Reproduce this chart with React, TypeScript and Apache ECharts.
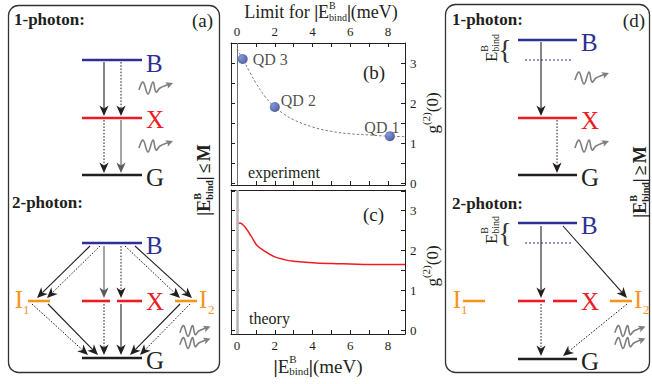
import React, { useEffect, useRef } from 'react';
import * as echarts from 'echarts';

const FONT = "'Liberation Serif', 'Times New Roman', serif";
const BLUE = '#2e3192';
const RED = '#ed1c24';
const ORANGE = '#f7941d';
const INK = '#231f20';
const GREY = '#7f7f7f';

// ---- data ----
const topTickLabels = [0, 2, 4, 6, 8];
const bottomTickLabels = [0, 2, 4, 6, 8];
const xTickValues = [0, 1, 2, 3, 4, 5, 6, 7, 8];
const yTickLabels = [0, 1, 2, 3];
const yTickValues = [0, 0.5, 1, 1.5, 2, 2.5, 3, 3.5];

const qdNames = ['QD 3', 'QD 2', 'QD 1'];
const qdX = [0.3, 2.0, 8.1];
const qdY = [3.1, 1.9, 1.17];

const fitX = [0, 0.3, 0.7, 1, 1.5, 2, 2.5, 3, 4, 5, 6, 7, 8, 8.9];
const fitY = [3.35, 3.1, 2.75, 2.5, 2.15, 1.9, 1.72, 1.58, 1.4, 1.29, 1.23, 1.2, 1.17, 1.16];

const theoryX = [0.05, 0.15, 0.4, 0.75, 1.05, 1.5, 2, 2.5, 3, 4, 5, 6, 7, 8, 8.9];
const theoryY = [2.68, 2.69, 2.6, 2.36, 2.13, 1.97, 1.84, 1.77, 1.73, 1.69, 1.67, 1.66, 1.65, 1.65, 1.65];

// ---- helpers ----
let mctx: CanvasRenderingContext2D | null = null;
function tw(text: string, size: number, weight = 'normal') {
  if (!mctx) mctx = document.createElement('canvas').getContext('2d');
  mctx!.font = `${weight} ${size}px ${FONT}`;
  return mctx!.measureText(text).width;
}

type Seg = { t: string; s: number; w?: string; dy?: number; c?: string; stack?: boolean; gap?: number };
function comp(x: number, y: number, segs: Seg[], align: 'left' | 'center' | 'right' = 'center', rotation = 0) {
  let cur = 0;
  let stackW = 0;
  let inStack = false;
  const placed: any[] = [];
  for (const sg of segs) {
    if (sg.gap) { cur += sg.gap; continue; }
    const w = tw(sg.t, sg.s, sg.w);
    placed.push({ ...sg, px: cur });
    if (sg.stack) { stackW = Math.max(stackW, w); inStack = true; }
    else if (inStack) { cur += Math.max(stackW, w); inStack = false; stackW = 0; }
    else cur += w;
  }
  const off = align === 'center' ? -cur / 2 : align === 'right' ? -cur : 0;
  return {
    type: 'group', x, y, rotation, silent: true,
    children: placed.map((p) => ({
      type: 'text', x: p.px + off, y: p.dy || 0, silent: true,
      style: {
        text: p.t, fontSize: p.s, fontWeight: p.w || 'normal', fontFamily: FONT,
        fill: p.c || INK, textAlign: 'left', textVerticalAlign: 'middle',
      },
    })),
  };
}

function txt(text: string, x: number, y: number, size: number, o: any = {}) {
  return {
    type: 'text', x, y, silent: true,
    style: {
      text, fontSize: size, fontFamily: FONT, fontWeight: o.w || 'normal', fill: o.c || INK,
      textAlign: o.align || 'left', textVerticalAlign: 'middle',
    },
  };
}

function level(x1: number, x2: number, y: number, color: string, dashed = false) {
  return {
    type: 'line', silent: true,
    shape: { x1, y1: y, x2, y2: y },
    style: dashed
      ? { stroke: color, lineWidth: 1.2, lineDash: [2, 2] }
      : { stroke: color, lineWidth: 2.6 },
  };
}

function arrow(x1: number, y1: number, x2: number, y2: number, dashed = false, color = INK) {
  const dx = x2 - x1, dy = y2 - y1;
  const L = Math.hypot(dx, dy);
  const ux = dx / L, uy = dy / L;
  const hl = 10.5, hw = 4.6;
  const bx = x2 - ux * hl, by = y2 - uy * hl;
  const nx = -uy, ny = ux;
  const kx = x2 - ux * hl * 0.72, ky = y2 - uy * hl * 0.72;
  return [
    {
      type: 'line', silent: true,
      shape: { x1, y1, x2: kx, y2: ky },
      style: dashed ? { stroke: color, lineWidth: 1, lineDash: [1.6, 1.6] } : { stroke: color, lineWidth: 1.1 },
    },
    {
      type: 'polygon', silent: true,
      shape: { points: [[x2, y2], [bx + nx * hw, by + ny * hw], [kx, ky], [bx - nx * hw, by - ny * hw]] },
      style: { fill: color, stroke: 'none' },
    },
  ];
}

function wave(x: number, y: number, k = 1) {
  const pts = [[1, 2], [5, -6], [10, 6], [15, -6], [18, 4], [22, 0], [29, -3]].map(([a, b]) => [x + a * k, y + b * k]);
  const tip = [x + 35 * k, y - 5 * k];
  const ux = 0.93, uy = -0.36;
  const hl = 7, hw = 3.4;
  const bx = tip[0] - ux * hl, by = tip[1] - uy * hl;
  return [
    { type: 'polyline', silent: true, shape: { points: [...pts, [bx + ux * 2, by + uy * 2]], smooth: 0.4 }, style: { stroke: GREY, lineWidth: 1.6, fill: 'none' } },
    {
      type: 'polygon', silent: true,
      shape: { points: [tip, [bx - uy * hw, by + ux * hw], [bx + ux * 1.5, by + uy * 1.5], [bx + uy * hw, by - ux * hw]] },
      style: { fill: GREY },
    },
  ];
}

function box(x: number, y: number, w: number, h: number) {
  return { type: 'rect', silent: true, shape: { x, y, width: w, height: h, r: 10 }, style: { fill: 'none', stroke: '#333333', lineWidth: 1.3 } };
}

function ebindSegs(size: number, bold: boolean): Seg[] {
  const w = bold ? 'bold' : 'normal';
  const small = Math.round(size * 0.58);
  return [
    { t: 'E', s: size, w },
    { t: 'B', s: small, w, dy: -size * 0.38, stack: true },
    { t: 'bind', s: small, w, dy: size * 0.28 },
  ];
}

function condLabel(x: number, y: number, rel: string) {
  const S = 18;
  return comp(x, y, [
    { t: '|', s: S, w: 'bold' },
    ...ebindSegs(S, true),
    { t: '|', s: S, w: 'bold' },
    { gap: 3, t: '', s: 0 },
    { t: rel, s: S, w: 'bold' },
    { gap: 2, t: '', s: 0 },
    { t: 'M', s: S, w: 'bold' },
  ], 'center', Math.PI / 2);
}

function buildGraphic() {
  const el: any[] = [];
  // ---------- panel (a) ----------
  el.push(box(8.5, 5.5, 211, 367));
  el.push(txt('1-photon:', 14, 19, 17, { w: 'bold' }));
  el.push(txt('(a)', 213, 20, 19, { align: 'right' }));
  el.push(level(82, 142, 60, BLUE), txt('B', 146, 63, 25, { c: BLUE }));
  el.push(level(82, 142, 118, RED), txt('X', 146, 119, 25, { c: RED }));
  el.push(level(82, 142, 175, INK), txt('G', 146, 177, 25));
  el.push(...arrow(104, 62, 104, 116), ...arrow(121, 62, 121, 116, true));
  el.push(...arrow(104, 120, 104, 173, true), ...arrow(121, 120, 121, 173, false, '#5a5a5a'));
  el.push(...wave(138, 88), ...wave(138, 146));
  el.push(condLabel(204, 180, '≤'));

  el.push(txt('2-photon:', 12, 202, 17, { w: 'bold' }));
  el.push(level(82, 142, 243, BLUE), txt('B', 146, 245, 25, { c: BLUE }));
  el.push(level(28, 50, 301, ORANGE), txt('I', 23, 299, 25, { c: ORANGE, align: 'right' }), txt('1', 23, 309, 13, { c: ORANGE }));
  el.push(level(82, 110, 301, RED), level(117, 142, 301, RED), txt('X', 146, 301, 25, { c: RED }));
  el.push(level(175, 197, 301, ORANGE), txt('I', 199, 299, 25, { c: ORANGE }), txt('2', 208, 309, 13, { c: ORANGE }));
  el.push(level(82, 142, 358, INK), txt('G', 146, 360, 25));
  el.push(...arrow(90, 246, 37, 298), ...arrow(100, 246, 47, 298, true));
  el.push(...arrow(104, 246, 104, 298, false, '#5a5a5a'), ...arrow(121, 246, 121, 298, true));
  el.push(...arrow(125, 246, 180, 298, true), ...arrow(135, 246, 192, 298));
  el.push(...arrow(32, 304, 88, 355, true), ...arrow(48, 304, 98, 355));
  el.push(...arrow(104, 304, 104, 355, true), ...arrow(121, 304, 121, 355));
  el.push(...arrow(180, 304, 130, 355), ...arrow(190, 304, 140, 355, true));
  el.push(...wave(179, 331, 0.9), ...wave(179, 343, 0.9));

  // ---------- panel (d) ----------
  el.push(box(445.5, 4.5, 204, 368));
  el.push(txt('1-photon:', 452, 19, 17, { w: 'bold' }));
  el.push(txt('(d)', 645, 20, 19, { align: 'right' }));
  el.push(level(518, 577, 40, BLUE), level(525, 572, 60, BLUE, true), txt('B', 581, 42, 25, { c: BLUE }));
  el.push(txt('{', 505, 49, 28, { c: '#333', align: 'center' }));
  el.push(comp(491, 48, ebindSegs(17, false), 'center', Math.PI / 2));
  el.push(level(518, 577, 118, RED), txt('X', 581, 120, 25, { c: RED }));
  el.push(level(518, 577, 175, INK), txt('G', 581, 177, 25));
  el.push(...arrow(541, 42, 541, 116), ...arrow(557, 120, 557, 173, true));
  el.push(...wave(574, 78), ...wave(574, 146));
  el.push(condLabel(640, 182, '≥'));

  el.push(txt('2-photon:', 452, 203, 17, { w: 'bold' }));
  el.push(level(518, 577, 223, BLUE), level(525, 572, 243, BLUE, true), txt('B', 581, 225, 25, { c: BLUE }));
  el.push(txt('{', 505, 232, 28, { c: '#333', align: 'center' }));
  el.push(comp(491, 230, ebindSegs(17, false), 'center', Math.PI / 2));
  el.push(level(463, 485, 301, ORANGE), txt('I', 461, 299, 25, { c: ORANGE, align: 'right' }), txt('1', 461, 309, 13, { c: ORANGE }));
  el.push(level(518, 545, 301, RED), level(553, 577, 301, RED), txt('X', 581, 301, 25, { c: RED }));
  el.push(level(610, 632, 301, ORANGE), txt('I', 634, 299, 25, { c: ORANGE }), txt('2', 643, 309, 13, { c: ORANGE }));
  el.push(level(518, 577, 359, INK), txt('G', 581, 361, 25));
  el.push(...arrow(541, 226, 541, 298), ...arrow(563, 226, 627, 298));
  el.push(...arrow(541, 304, 541, 356, true), ...arrow(627, 304, 563, 356, true));
  el.push(...wave(614, 331, 0.9), ...wave(614, 343, 0.9));

  // ---------- middle plot texts ----------
  el.push(comp(321, 12, [
    { t: 'Limit for ', s: 18 },
    { t: '|', s: 18, w: 'bold' },
    ...ebindSegs(18, false),
    { t: '|', s: 18, w: 'bold' },
    { t: '(meV)', s: 18 },
  ]));
  el.push(comp(318, 366, [
    { t: '|', s: 19, w: 'bold' },
    ...ebindSegs(19, false),
    { t: '|', s: 19, w: 'bold' },
    { t: '(meV)', s: 19 },
  ]));
  const g2 = (cy: number) => comp(432, cy, [
    { t: 'g', s: 17 },
    { t: '(2)', s: 11, dy: -6 },
    { t: '(0)', s: 17 },
  ], 'center', Math.PI / 2);
  el.push(g2(113), g2(266));
  el.push(txt('(b)', 363, 72, 19), txt('(c)', 363, 214, 19));
  el.push(txt('experiment', 248, 172, 16), txt('theory', 249, 318, 16));
  return el;
}

function xAx(grid: number, pos: string, labels: number[] | null, ticks: number[] | null) {
  return {
    type: 'value', gridIndex: grid, position: pos, min: -0.32, max: 8.9,
    axisLine: { show: true, onZero: false, lineStyle: { color: INK, width: 1 } },
    axisTick: ticks ? { show: true, inside: true, length: 4, customValues: ticks, lineStyle: { color: INK } } : { show: false },
    axisLabel: labels ? { show: true, customValues: labels, fontFamily: FONT, fontSize: 13, color: INK, margin: 5 } : { show: false },
    splitLine: { show: false },
  };
}
function yAx(grid: number, pos: string, min: number, max: number, labels: number[] | null) {
  return {
    type: 'value', gridIndex: grid, position: pos, min, max,
    axisLine: { show: true, onZero: false, lineStyle: { color: INK, width: 1 } },
    axisTick: { show: true, inside: true, length: 4, customValues: yTickValues, lineStyle: { color: INK } },
    axisLabel: labels ? { show: true, customValues: labels, fontFamily: FONT, fontSize: 13, color: INK, margin: 5 } : { show: false },
    splitLine: { show: false },
  };
}

function buildOption() {
  const qdLabel = [
    { position: 'right', distance: 5 },
    { position: 'right', distance: 1, offset: [0, -7] },
    { position: 'inside', offset: [-8, -9] },
  ];
  return {
    animation: false,
    backgroundColor: '#ffffff',
    textStyle: { fontFamily: FONT },
    grid: [
      { left: 231, top: 43, width: 174, height: 142 },
      { left: 231, top: 190, width: 174, height: 144 },
    ],
    xAxis: [
      xAx(0, 'top', topTickLabels, xTickValues),
      xAx(0, 'bottom', null, xTickValues),
      xAx(1, 'bottom', bottomTickLabels, xTickValues),
      xAx(1, 'top', null, null),
    ],
    yAxis: [
      yAx(0, 'right', -0.05, 3.5, yTickLabels),
      yAx(0, 'left', -0.05, 3.5, null),
      yAx(1, 'right', -0.1, 3.52, yTickLabels),
      yAx(1, 'left', -0.1, 3.52, null),
    ],
    series: [
      {
        type: 'line', xAxisIndex: 0, yAxisIndex: 0, smooth: 0.4, symbol: 'none', silent: true,
        data: fitX.map((x, i) => [x, fitY[i]]),
        lineStyle: { color: '#7a7a7a', width: 1, type: [2.5, 2] },
        markLine: {
          silent: true, symbol: 'none', label: { show: false },
          lineStyle: { color: '#6e6e6e', width: 1, type: 'solid' },
          data: [{ xAxis: 0 }],
        },
      },
      {
        type: 'scatter', xAxisIndex: 0, yAxisIndex: 0, symbolSize: 10, silent: true,
        itemStyle: {
          color: new echarts.graphic.RadialGradient(0.35, 0.35, 0.7, [
            { offset: 0, color: '#6a83d8' },
            { offset: 1, color: '#1d338c' },
          ]),
        },
        label: { show: true, formatter: '{b}', fontFamily: FONT, fontSize: 16, color: INK },
        data: qdX.map((x, i) => ({ name: qdNames[i], value: [x, qdY[i]], label: qdLabel[i] })),
      },
      {
        type: 'line', xAxisIndex: 2, yAxisIndex: 2, smooth: 0.4, symbol: 'none', silent: true,
        data: theoryX.map((x, i) => [x, theoryY[i]]),
        lineStyle: { color: RED, width: 1.5 },
        markLine: {
          silent: true, symbol: 'none', label: { show: false },
          lineStyle: { color: '#b5b5b5', width: 2.5, type: 'solid' },
          data: [{ xAxis: 0 }],
        },
      },
    ],
    graphic: { elements: buildGraphic() },
  };
}

export default function App() {
  const ref = useRef<HTMLDivElement>(null);
  useEffect(() => {
    const chart = echarts.init(ref.current!, null, { renderer: 'svg' });
    chart.setOption(buildOption() as any);
    return () => chart.dispose();
  }, []);
  return (
    <div
      ref={ref}
      style={{ position: 'fixed', left: 0, top: 0, width: 652, height: 384, background: '#fff' }}
    />
  );
}
